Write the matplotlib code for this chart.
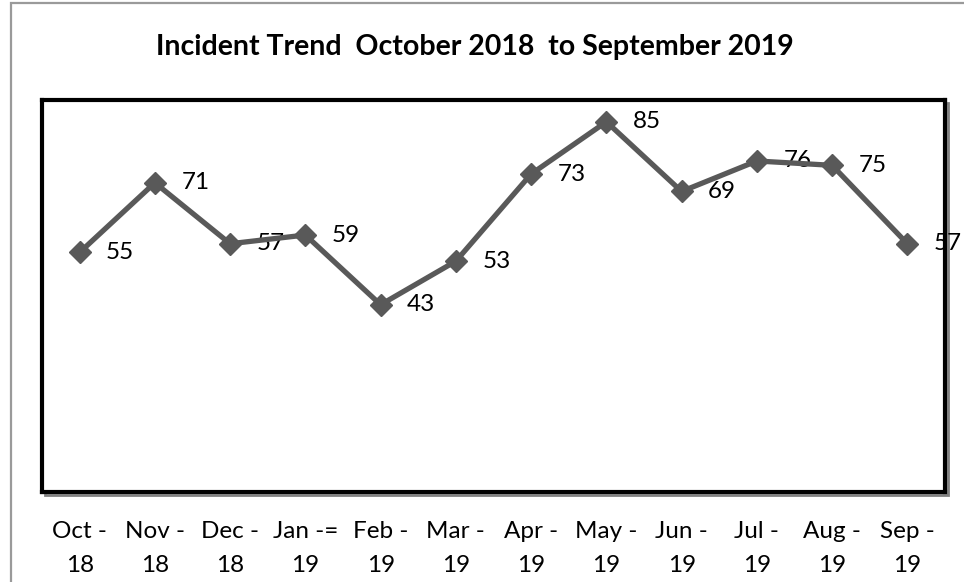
import matplotlib.pyplot as plt
import matplotlib.patches as patches
import numpy as np

months = ['Oct -\n18', 'Nov -\n18', 'Dec -\n18', 'Jan -=\n19', 'Feb -\n19', 'Mar -\n19',
          'Apr -\n19', 'May -\n19', 'Jun -\n19', 'Jul -\n19', 'Aug -\n19', 'Sep -\n19']
incidents = [55, 71, 57, 59, 43, 53, 73, 85, 69, 76, 75, 57]
title = 'Incident Trend  October 2018  to September 2019'

W, H = 964, 582
plt.rcParams['font.family'] = ['Lato', 'DejaVu Sans']

fig = plt.figure(figsize=(W / 100, H / 100), dpi=100)
fig.patch.set_facecolor('white')

# outer gray border (only top and left visible)
fig.add_artist(patches.Rectangle((11 / W, -0.05), 1.2, 1 - 3 / H + 0.05,
                                 transform=fig.transFigure, fill=False,
                                 edgecolor='#9a9a9a', linewidth=1.6))

left, right, top, bottom = 42, 945, 100, 492
ax = fig.add_axes([left / W, 1 - bottom / H, (right - left) / W, (bottom - top) / H])

# slight shadow of the frame
fig.add_artist(patches.Rectangle(((left + 3) / W, 1 - (bottom + 3) / H),
                                 (right - left) / W, (bottom - top) / H,
                                 transform=fig.transFigure, fill=False,
                                 edgecolor='#808080', linewidth=2, zorder=0))

x = np.arange(len(months))
ax.plot(x, incidents, color='#595959', linewidth=3.8, marker='D', markersize=11,
        markerfacecolor='#595959', markeredgecolor='#595959', zorder=3)

for xi, v in zip(x, incidents):
    ax.annotate(str(v), (xi, v), xytext=(19, 0), textcoords='offset points',
                ha='left', va='center', fontsize=17.5, color='black',
                annotation_clip=False, zorder=2)

ax.set_xlim(-0.5, len(months) - 0.5)
ax.set_ylim(0, 90)
ax.set_yticks([])
ax.set_xticks(x)
ax.set_xticklabels(months, fontsize=17.5, linespacing=1.75)
ax.tick_params(axis='x', length=0, pad=21)
for s in ax.spines.values():
    s.set_linewidth(3)
    s.set_color('black')
    s.set_zorder(4)
ax.set_facecolor('white')

fig.text(475 / W, 1 - 47 / H, title, ha='center', va='center',
         fontsize=20.5, fontweight='bold')

fig.savefig('out.png', dpi=100)
